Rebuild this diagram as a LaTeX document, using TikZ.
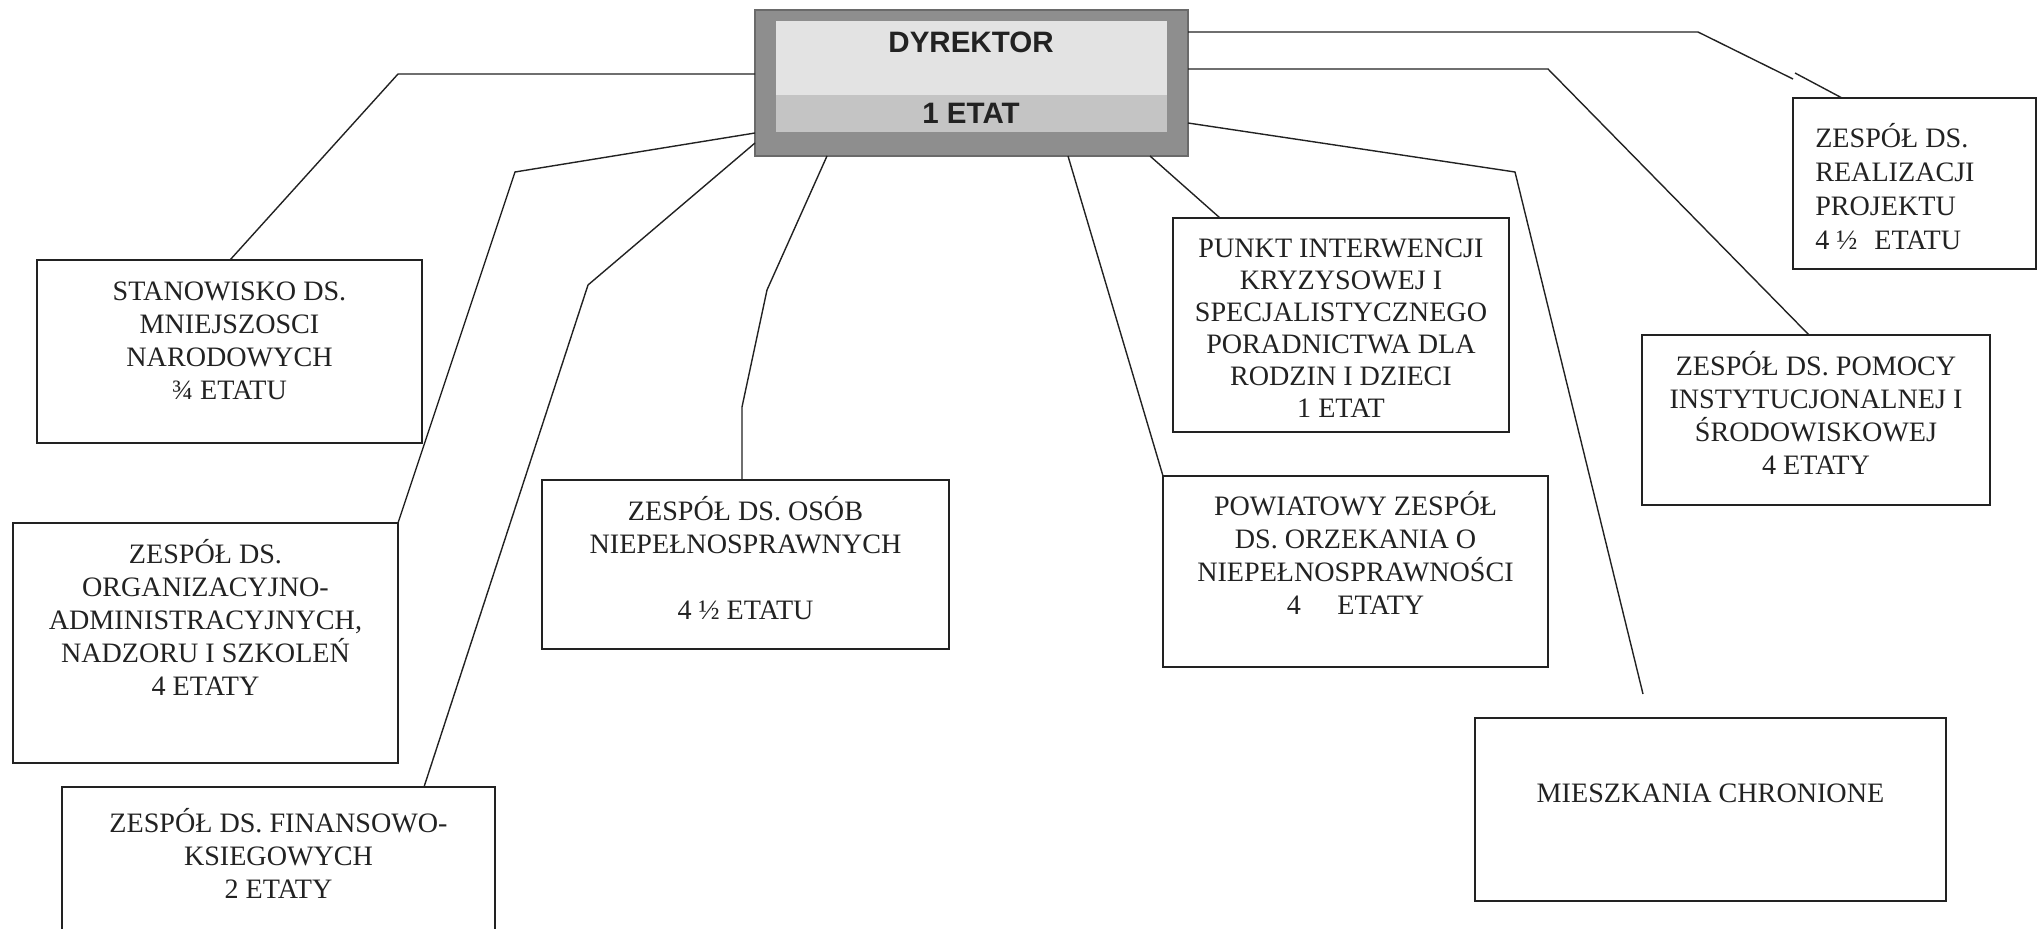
\documentclass[tikz,border=0pt]{standalone}
\usepackage{fontspec}
\setmainfont{Liberation Serif}
\newfontfamily\headfont{Liberation Sans}
\usetikzlibrary{calc}
\definecolor{ink}{HTML}{222222}
\definecolor{frameg}{HTML}{8E8E8E}
\definecolor{frameline}{HTML}{6A6A6A}
\definecolor{lightp}{HTML}{E3E3E3}
\definecolor{bandp}{HTML}{C4C4C4}
\begin{document}
\begin{tikzpicture}[x=0.25mm,y=-0.25mm,
  box/.style={draw=ink, line width=0.35mm, inner sep=0pt, outer sep=0pt, anchor=north west},
  bw/.style={minimum width=#1*0.25mm},
  bh/.style={minimum height=#1*0.25mm},
  boxtext/.style={inner sep=0pt, anchor=north, align=center, text=ink,
    font=\fontsize{20pt}{23.5pt}\selectfont},
  dirtext/.style={inner sep=0pt, text=ink, font=\headfont\bfseries\fontsize{21pt}{24pt}\selectfont},
  link/.style={draw=ink, line width=0.35mm, line join=miter}]
\useasboundingbox (0,0) rectangle (2042,929);
\clip (0,0) rectangle (2042,929);

% director
\node[box, draw=frameline, fill=frameg, bw=433, bh=146] (dir) at (755,10) {};
\fill[lightp] (776,21) rectangle (1167,95);
\fill[bandp] (776,95) rectangle (1167,132);
\node[dirtext] (dirA) at (971,42) {DYREKTOR};
\node[dirtext] (dirB) at (971,113) {1 ETAT};

% boxes
\node[box, bw=385, bh=183] (stan) at (37,260) {};
\node[boxtext] (stanT) at (229.5,272) {\rule{0pt}{20pt}STANOWISKO DS.\\ MNIEJSZOSCI\\ NARODOWYCH\\ ¾ ETATU};

\node[box, bw=385, bh=240] (org) at (13,523) {};
\node[boxtext] (orgT) at (205.5,535) {\rule{0pt}{20pt}ZESPÓŁ DS.\\ ORGANIZACYJNO-\\ ADMINISTRACYJNYCH,\\ NADZORU I SZKOLEŃ\\ 4 ETATY};

\node[box, bw=433, bh=200] (fin) at (62,787) {};
\node[boxtext] (finT) at (278.5,804) {\rule{0pt}{20pt}ZESPÓŁ DS. FINANSOWO-\\ KSIEGOWYCH\\ 2 ETATY};

\node[box, bw=407, bh=169] (osob) at (542,480) {};
\node[boxtext] (osobT) at (745.5,492) {\rule{0pt}{20pt}ZESPÓŁ DS. OSÓB\\ NIEPEŁNOSPRAWNYCH\\ ~\\ 4 ½ ETATU};

\node[box, bw=336, bh=214] (punkt) at (1173,218) {};
\node[boxtext, font=\fontsize{20pt}{22.8pt}\selectfont] (punktT) at (1341,229) {\rule{0pt}{20pt}PUNKT INTERWENCJI\\ KRYZYSOWEJ I\\ SPECJALISTYCZNEGO\\ PORADNICTWA DLA\\ RODZIN I DZIECI\\ 1 ETAT};

\node[box, bw=385, bh=191] (powiat) at (1163,476) {};
\node[boxtext] (powiatT) at (1355.5,487) {\rule{0pt}{20pt}POWIATOWY ZESPÓŁ\\ DS. ORZEKANIA O\\ NIEPEŁNOSPRAWNOŚCI\\ 4\hspace{1.3em}ETATY};

\node[box, bw=243, bh=171] (real) at (1793,98) {};
\node[boxtext, anchor=north west, align=left, font=\fontsize{20pt}{24.2pt}\selectfont] (realT) at (1815,119) {\rule{0pt}{20pt}ZESPÓŁ DS.\\ REALIZACJI\\ PROJEKTU\\ 4 ½\hspace{0.6em}ETATU};

\node[box, bw=348, bh=170] (pomocy) at (1642,335) {};
\node[boxtext] (pomocyT) at (1816,347) {\rule{0pt}{20pt}ZESPÓŁ DS. POMOCY\\ INSTYTUCJONALNEJ I\\ ŚRODOWISKOWEJ\\ 4 ETATY};

\node[box, bw=471, bh=183] (miesz) at (1475,718) {};
\node[boxtext] (mieszT) at (1710.5,774) {\rule{0pt}{20pt}MIESZKANIA CHRONIONE};

% connectors
\draw[link] ($(stan.north west)+(193,0)$) -- (398,74) -- ($(dir.north west)+(0,64)$);
\draw[link] (org.north east) -- (515,172) -- ($(dir.north west)+(0,123)$);
\draw[link] ($(fin.north west)+(362,0)$) -- (588,285) -- ($(dir.north west)+(0,133)$);
\draw[link] ($(osob.north west)+(200,0)$) -- (742,407) -- (767,290) -- ($(dir.south west)+(72,0)$);
\draw[link] ($(dir.south west)+(313,0)$) -- (powiat.north west);
\draw[link] ($(dir.south west)+(395,0)$) -- ($(punkt.north west)+(47,0)$);
\coordinate (mieszEnd) at ($(miesz.north west)+(168,-24)$);
\draw[link] ($(dir.north east)+(0,113)$) -- (1515,172) -- (mieszEnd);
\draw[link] ($(dir.north east)+(0,59)$) -- (1548,69) -- ($(pomocy.north west)+(167,0)$);
\draw[link] ($(dir.north east)+(0,22)$) -- (1698,32) -- (1793,79);
\coordinate (realBreak) at (1795,73);
\draw[link] (realBreak) -- ($(real.north west)+(49,0)$);
\end{tikzpicture}
\end{document}
